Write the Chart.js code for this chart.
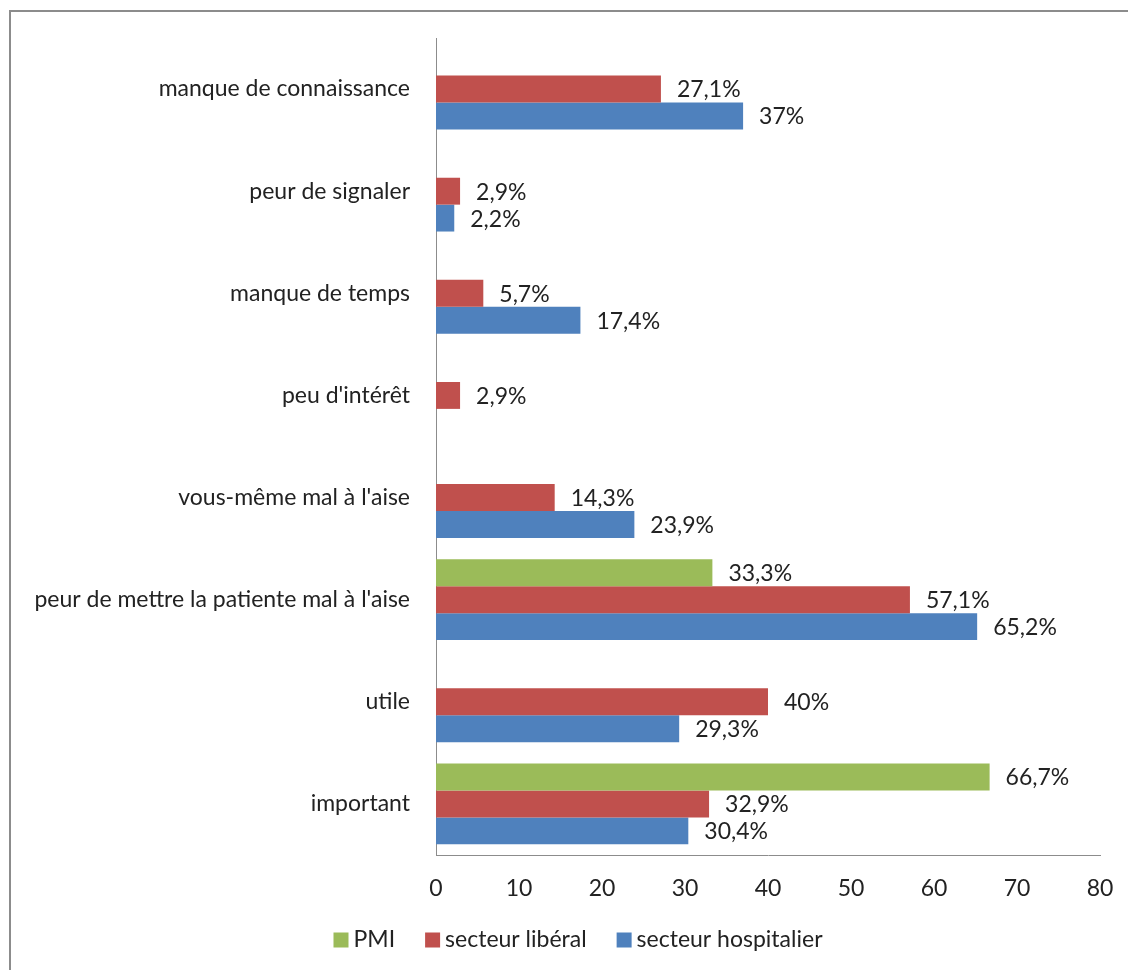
<!DOCTYPE html>
<html>
<head>
<meta charset="utf-8">
<script src="https://cdn.jsdelivr.net/npm/chart.js@4/dist/chart.umd.min.js"></script>
<style>
    html, body { margin: 0; padding: 0; background: #fff; }
    #wrap { position: relative; width: 1128px; height: 970px; }
    #frame { position: absolute; left: 9px; top: 10px; right: -4px; bottom: -4px;
             border-left: 2px solid #8c8c8c; border-top: 2px solid #8c8c8c; }
    canvas { position: absolute; left: 0; top: 0; }
</style>
</head>
<body>
<div id="wrap">
    <div id="frame"></div>
    <canvas id="chart" width="1128" height="970"></canvas>
</div>
<script>
// Categories, top to bottom
const categories = [
    'manque de connaissance',
    'peur de signaler',
    'manque de temps',
    "peu d'intérêt",
    "vous-même mal à l'aise",
    "peur de mettre la patiente mal à l'aise",
    'utile',
    'important'
];

// Series values (%)
const pmi = [null, null, null, null, null, 33.3, null, 66.7];
const liberal = [27.1, 2.9, 5.7, 2.9, 14.3, 57.1, 40, 32.9];
const hospitalier = [37, 2.2, 17.4, null, 23.9, 65.2, 29.3, 30.4];

const xTicks = [0, 10, 20, 30, 40, 50, 60, 70, 80];

const FONT = 'Lato, "Open Sans", sans-serif';
const FONT_SIZE = 23;

// Value labels at bar ends, e.g. "27,1%"
const valueLabels = {
    id: 'valueLabels',
    afterDatasetsDraw(chart) {
        const ctx = chart.ctx;
        ctx.save();
        ctx.font = FONT_SIZE + 'px ' + FONT;
        ctx.fillStyle = '#222';
        ctx.textAlign = 'left';
        ctx.textBaseline = 'middle';
        chart.data.datasets.forEach((ds, i) => {
            chart.getDatasetMeta(i).data.forEach((bar, j) => {
                const v = ds.data[j];
                if (v === null || v === undefined) return;
                const txt = String(v).replace('.', ',') + '%';
                ctx.fillText(txt, bar.x + 16, bar.y + 1);
            });
        });
        ctx.restore();
    }
};

// Legend below the axis
const bottomLegend = {
    id: 'bottomLegend',
    afterDraw(chart) {
        const ctx = chart.ctx;
        ctx.save();
        ctx.font = FONT_SIZE + 'px ' + FONT;
        ctx.textBaseline = 'middle';
        const box = 15, gap = 5, spacing = 30;
        const items = chart.data.datasets.map(ds => ({
            label: ds.label, color: ds.backgroundColor,
            w: box + gap + ctx.measureText(ds.label).width
        }));
        const total = items.reduce((s, it) => s + it.w, 0) + spacing * (items.length - 1);
        let x = 578 - total / 2;
        const y = 940;
        items.forEach(it => {
            ctx.fillStyle = it.color;
            ctx.fillRect(x, y - box / 2, box, box);
            ctx.fillStyle = '#222';
            ctx.fillText(it.label, x + box + gap, y);
            x += it.w + spacing;
        });
        ctx.restore();
    }
};

const ctx = document.getElementById('chart').getContext('2d');
const chart = new Chart(ctx, {
    type: 'bar',
    data: {
        labels: categories,
        datasets: [
            { label: 'PMI', data: pmi, backgroundColor: '#9BBB59' },
            { label: 'secteur libéral', data: liberal, backgroundColor: '#C0504D' },
            { label: 'secteur hospitalier', data: hospitalier, backgroundColor: '#4F81BD' }
        ]
    },
    options: {
        indexAxis: 'y',
        responsive: false,
        animation: false,
        devicePixelRatio: 1,
        categoryPercentage: 0.79,
        barPercentage: 1,
        layout: { padding: { top: 38, right: 28, bottom: 60, left: 0 } },
        plugins: {
            legend: { display: false },
            tooltip: { enabled: false }
        },
        scales: {
            x: {
                min: 0,
                max: 80,
                afterBuildTicks(scale) {
                    scale.ticks = xTicks.map(v => ({ value: v }));
                },
                afterFit(scale) { scale.height = 55; },
                grid: { display: false },
                border: { display: true, color: '#8c8c8c', width: 1 },
                ticks: {
                    color: '#222',
                    font: { family: FONT, size: FONT_SIZE },
                    padding: 12
                }
            },
            y: {
                afterFit(scale) { scale.width = 436; },
                grid: { display: false },
                border: { display: true, color: '#8c8c8c', width: 1 },
                ticks: {
                    color: '#222',
                    font: { family: FONT, size: FONT_SIZE },
                    padding: 18
                }
            }
        }
    },
    plugins: [valueLabels, bottomLegend]
});
</script>
</body>
</html>
